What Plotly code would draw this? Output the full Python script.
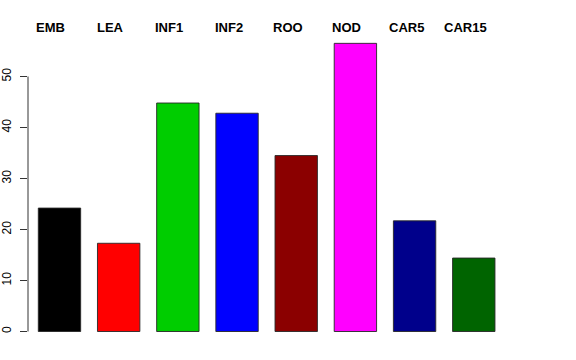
import plotly.graph_objects as go

categories = ["EMB", "LEA", "INF1", "INF2", "ROO", "NOD", "CAR5", "CAR15"]
values = [24.2, 17.3, 44.8, 42.8, 34.5, 56.5, 21.7, 14.4]
colors = ["#000000", "#FF0000", "#00CD00", "#0000FF", "#8B0000", "#FF00FF", "#00008B", "#006400"]
y_ticks = [0, 10, 20, 30, 40, 50]

fig = go.Figure()
fig.add_trace(go.Bar(
    x=categories, y=values,
    marker=dict(color=colors, line=dict(color="rgba(40,40,40,0.9)", width=1)),
    hoverinfo="skip",
))

# y axis line only spanning tick range (like base R)
fig.add_shape(type="line", xref="paper", yref="y", x0=0, x1=0,
              y0=min(y_ticks), y1=max(y_ticks),
              line=dict(color="#333333", width=1))

for c in categories:
    fig.add_annotation(x=c, y=59.6, xref="x", yref="y", text="<b>%s</b>" % c,
                       showarrow=False, xshift=-8.5,
                       font=dict(family="Liberation Sans, Arial, sans-serif", size=13, color="black"))

fig.update_layout(
    width=576, height=360,
    margin=dict(l=28, r=64, t=10, b=10, autoexpand=False),
    paper_bgcolor="white", plot_bgcolor="white",
    showlegend=False,
    bargap=0.284,
    font=dict(family="Liberation Sans, Arial, sans-serif", color="black"),
    xaxis=dict(visible=False, range=[-0.532, 7.646], type="category", automargin=False),
    yaxis=dict(range=[-3.627, 63.04], tickvals=y_ticks, ticktext=[str(t) for t in y_ticks],
               showgrid=False, zeroline=False, showline=False, automargin=False,
               ticks="outside", ticklen=7, tickcolor="#333333", tickwidth=1,
               ticklabelstandoff=4,
               tickangle=-90, tickfont=dict(size=12, color="black")),
)

fig.write_html("out.html", config={"displayModeBar": False, "staticPlot": True},
               post_script="document.body.style.margin='0';document.body.style.overflow='hidden';")
